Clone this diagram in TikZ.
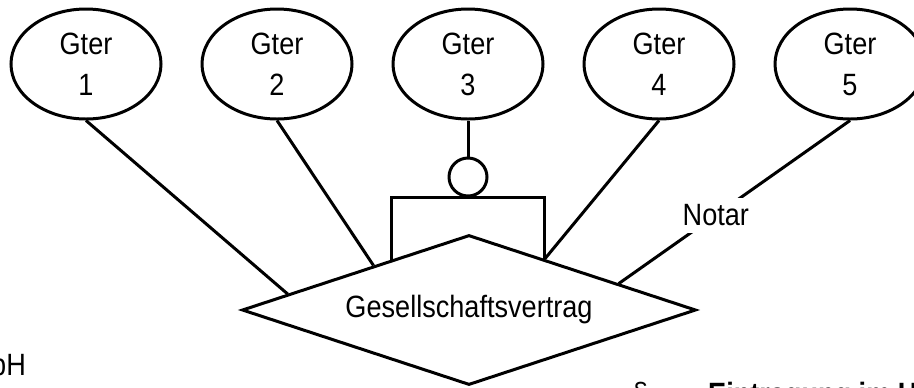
\documentclass[tikz,border=0pt]{standalone}
\usepackage{fontspec}
\setmainfont[FakeStretch=0.88]{Liberation Sans}
\usepackage{xcolor}
\usepackage{tikz}
\usetikzlibrary{positioning, shapes.geometric}

\begin{document}
\begin{tikzpicture}[x=0.5pt, y=-0.5pt, node distance=19pt, line width=1.5pt,
    every node/.style={align=center, font=\fontsize{15.4}{20.5}\selectfont},
    gter/.style={draw, ellipse, minimum width=75pt, minimum height=55pt, inner sep=0pt},
    vertragbox/.style={draw, diamond, aspect=3, minimum width=227pt, minimum height=75pt, inner sep=0pt}]
    \useasboundingbox (0,0) rectangle (914,387);

    % Gesellschafter oben
    \node (g3) [gter] at (468,64) {Gter\\3};
    \node (g2) [gter, left=of g3] {Gter\\2};
    \node (g1) [gter, left=of g2] {Gter\\1};
    \node (g4) [gter, right=of g3] {Gter\\4};
    \node (g5) [gter, right=of g4] {Gter\\5};

    % Vertrag unten
    \node (vertrag) [vertragbox] at (469,310) {Gesellschaftsvertrag};
    \node (ring) [below=18pt of g3, draw, circle, minimum size=19pt, inner sep=0pt] {};

    % Linien
    \draw (g1.south) -- (vertrag.175);
    \draw (g2.south) -- (vertrag.155);
    \draw (g3.south) -- (ring.north);
    \draw (vertrag.147) |- (ring.south) -| (vertrag.34);
    \draw (g4.south) -- (vertrag.34);
    \draw (g5.south) -- node[pos=0.58, fill=white] {Notar} (vertrag.10);

    % abgeschnittene Texte am Rand
    \node (gmbh) [anchor=base east] at (34,375) {GmbH};
    \node (para) [anchor=base west] at (625,404) {§};
    \node (eintrag) [anchor=base west, font=\fontsize{15.4}{20.5}\selectfont\bfseries] at (700,404) {Eintragung im H};
\end{tikzpicture}
\end{document}
